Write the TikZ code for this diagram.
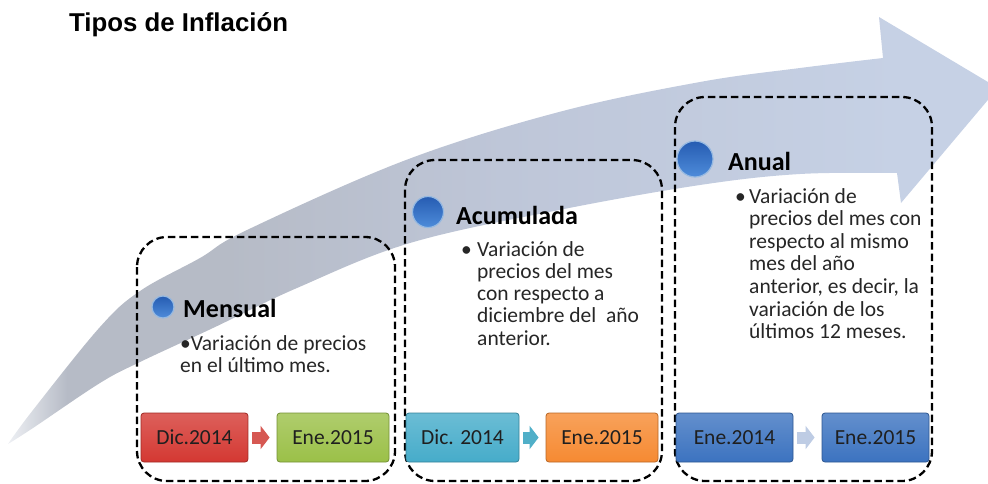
\documentclass[tikz,border=0pt]{standalone}
\usepackage{fontspec}
\setmainfont{Carlito}
\newfontfamily\titlefont{Liberation Sans}
\usetikzlibrary{arrows.meta}
\definecolor{fadetip}{RGB}{238,240,244}
\definecolor{tailgray}{RGB}{182,187,198}
\definecolor{midblue}{RGB}{190,198,216}
\definecolor{headblue}{RGB}{198,209,229}
\definecolor{balltop}{RGB}{38,92,178}
\definecolor{ballbot}{RGB}{78,140,218}
\definecolor{ballrim}{RGB}{150,185,225}
\definecolor{dred}{RGB}{212,56,50}
\definecolor{dgreen}{RGB}{155,192,72}
\definecolor{dcyan}{RGB}{70,172,202}
\definecolor{dorange}{RGB}{246,138,50}
\definecolor{dblue}{RGB}{60,115,192}
\definecolor{arrred}{RGB}{214,88,82}
\definecolor{arrcyan}{RGB}{80,175,200}
\definecolor{arrpale}{RGB}{190,204,228}
\pgfdeclarehorizontalshading{arrowfade}{100bp}{color(0bp)=(fadetip); color(25bp)=(fadetip); color(28bp)=(tailgray); color(36bp)=(tailgray); color(50bp)=(midblue); color(70bp)=(headblue); color(100bp)=(headblue)}
\tikzset{
  frame/.style={draw=black, line width=2.3pt, dash pattern=on 7.5pt off 4pt, rounded corners=30pt},
  datebox/.style={rectangle, rounded corners=3pt, minimum height=49pt, line width=0.8pt,
    top color=#1!80!white, bottom color=#1, draw=#1!75!black, text=black!88,
    font=\fontsize{21.5}{24}\selectfont},
  datearrow/.style={line width=12pt, draw=#1, -{Triangle[length=9pt,width=23pt]},
    shorten <=4pt, shorten >=7pt},
  heading/.style={anchor=base west, inner sep=0pt, font=\bfseries\fontsize{26}{30}\selectfont},
  bodyline/.style={anchor=base west, inner sep=0pt, text=black!85, font=\fontsize{21.5}{24}\selectfont},
  sphere/.style={circle, inner sep=0pt, top color=balltop, bottom color=ballbot, draw=ballrim, line width=1.2pt}
}
\begin{document}
\begin{tikzpicture}[x=1pt, y=-1pt]
  \useasboundingbox (0,0) rectangle (988,483);
  \clip (0,0) rectangle (988,483);
  % big arrow behind everything
  \shade[shading=arrowfade] plot[smooth, tension=0.6] coordinates {(8,444) (33,410) (100,327) (140,291) (200,258) (247,230) (406,160) (559,112) (700,82) (800,68) (883,58)}
    -- (879,17) -- (998,88) -- (901,203)
    -- plot[smooth, tension=0.6] coordinates {(897,173) (800,174) (700,185) (559,210) (410,243) (297,288) (213,328) (140,362) (100,383) (33,428) (8,444)} -- cycle;
  \node[anchor=base west, inner sep=0pt, font=\titlefont\bfseries\fontsize{25.8}{30}\selectfont] (title) at (69,31) {Tipos de Inflación};
  % dashed frames
  \draw[frame] (137,237) rectangle (395,481);
  \draw[frame] (405,160) rectangle (662,481);
  \draw[frame] (675,97) rectangle (932,481);
  % mensual
  \node[sphere, minimum size=22pt] (mball) at (163,307) {};
  \node[heading] (mhead) at (183,317) {Mensual};
  \node[bodyline] (m1) at (180,350) {•Variación de precios};
  \node[bodyline] (m2) at (180,372) {en el último mes.};
  % acumulada
  \node[sphere, minimum size=31pt] (aball) at (428,212) {};
  \node[heading] (ahead) at (456,224) {Acumulada};
  \node[bodyline] (abul) at (461,256) {•};
  \foreach \txt [count=\i] in {Variación de, precios del mes, con respecto a, {diciembre del\ \ año}, anterior.}
    \node[bodyline] (a\i) at (477,233.7+22.3*\i) {\txt};
  % anual
  \node[sphere, minimum size=36pt] (nball) at (695,159) {};
  \node[heading] (nhead) at (728,170) {Anual};
  \node[bodyline] (nbul) at (735,203) {•};
  \foreach \txt [count=\i] in {Variación de, precios del mes con, respecto al mismo, mes del año, {anterior, es decir, la}, variación de los, últimos 12 meses.}
    \node[bodyline] (n\i) at (749,180.4+22.6*\i) {\txt};
  % dates
  \node[datebox=dred, minimum width=107pt] (dic1) at (194.5,437.5) {Dic.2014};
  \node[datebox=dgreen, minimum width=112pt] (ene1) at (333,437.5) {Ene.2015};
  \node[datebox=dcyan, minimum width=113pt] (dic2) at (462.5,437.5) {Dic. 2014};
  \node[datebox=dorange, minimum width=112pt] (ene2) at (602,437.5) {Ene.2015};
  \node[datebox=dblue, minimum width=117pt] (ene3) at (734.5,437.5) {Ene.2014};
  \node[datebox=dblue, minimum width=107pt] (ene4) at (875.5,437.5) {Ene.2015};
  \draw[datearrow=arrred] (dic1) -- (ene1);
  \draw[datearrow=arrcyan] (dic2) -- (ene2);
  \draw[datearrow=arrpale] (ene3) -- (ene4);
\end{tikzpicture}
\end{document}
